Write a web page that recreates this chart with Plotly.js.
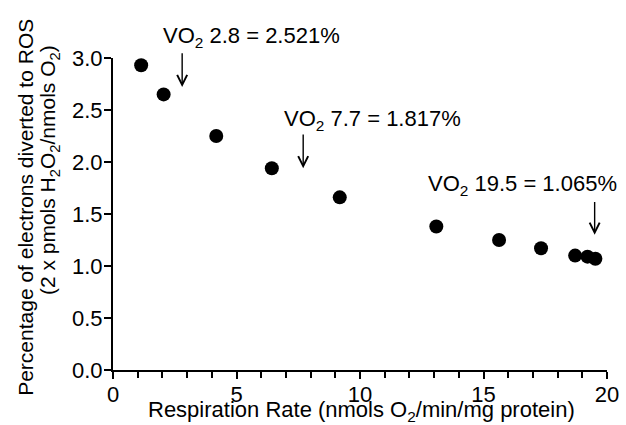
<!DOCTYPE html>
<html>
<head>
<meta charset="utf-8">
<script src="https://cdn.plot.ly/plotly-3.0.1.min.js"></script>
<style>html,body{margin:0;padding:0;background:#fff;}#chart{width:626px;height:425px;}</style>
</head>
<body>
<div id="chart"></div>
<script>
// Data
const respirationRate = [1.14, 2.05, 4.18, 6.43, 9.18, 13.09, 15.63, 17.33, 18.71, 19.21, 19.53];
const percentROS      = [2.93, 2.65, 2.25, 1.94, 1.66, 1.38, 1.25, 1.17, 1.10, 1.09, 1.07];

// Annotated points
const annotVO2   = [2.8, 7.7, 19.5];
const annotPct   = ["2.521", "1.817", "1.065"];
const annotLabel = annotVO2.map((v, i) => "VO<sub>2</sub> " + v + " = " + annotPct[i] + "%");

// Axis titles
const xTitle  = 'Respiration Rate (nmols O<sub>2</sub>/min/mg protein)';
const yTitle1 = 'Percentage of electrons diverted to ROS';
const yTitle2 = '(2 x pmols H<sub>2</sub>O<sub>2</sub>/nmols O<sub>2</sub>)';

const FONT = "Arial, 'Liberation Sans', Helvetica, sans-serif";

// layout positions (paper y) for annotation texts and arrows
const textPos   = [[5.61, 1.068], [10.52, 0.80], [16.56, 0.593]];
const arrowTail = [3.06, 2.28, 1.63];
const arrowTip  = [2.72, 1.94, 1.30];

const annotations = [];
annotLabel.forEach((t, i) => {
  annotations.push({
    x: textPos[i][0], y: textPos[i][1], xref: 'x', yref: 'paper',
    text: t, showarrow: false, font: {family: FONT, size: 22, color: '#000'},
    xanchor: 'center', yanchor: 'middle'
  });
  annotations.push({
    x: annotVO2[i], y: arrowTip[i], ax: annotVO2[i], ay: arrowTail[i],
    xref: 'x', yref: 'y', axref: 'x', ayref: 'y',
    text: '', showarrow: true, arrowhead: 5, arrowsize: 1.4, arrowwidth: 1.4, arrowcolor: '#000'
  });
});

// X axis title
annotations.push({
  xref: 'paper', yref: 'paper', x: 0.503, y: -0.13, xanchor: 'center', yanchor: 'middle',
  text: xTitle, showarrow: false, font: {family: FONT, size: 22, color: '#000'}
});
// Y axis title (two lines)
annotations.push({
  xref: 'paper', yref: 'paper', x: -0.176, y: 0.52, xanchor: 'center', yanchor: 'middle',
  text: yTitle1, textangle: -90, showarrow: false,
  font: {family: FONT, size: 21, color: '#000'}
});
annotations.push({
  xref: 'paper', yref: 'paper', x: -0.128, y: 0.64, xanchor: 'center', yanchor: 'middle',
  text: yTitle2, textangle: -90, showarrow: false,
  font: {family: FONT, size: 21, color: '#000'}
});

const trace = {
  x: respirationRate, y: percentROS, type: 'scatter', mode: 'markers',
  marker: {size: 14, color: '#000'}, cliponaxis: false, showlegend: false
};

const layout = {
  width: 626, height: 425,
  margin: {l: 113, r: 19, t: 58, b: 55, pad: 0},
  paper_bgcolor: '#fff', plot_bgcolor: '#fff',
  font: {family: FONT, color: '#000'},
  showlegend: false,
  xaxis: {
    range: [0, 20], dtick: 5, tick0: 0, showgrid: false, zeroline: false,
    showline: true, linecolor: '#000', linewidth: 2,
    ticks: 'outside', ticklen: 7, tickwidth: 2, tickcolor: '#000',
    ticklabelstandoff: -3,
    minor: {dtick: 1, ticks: 'outside', ticklen: 6, tickwidth: 2, tickcolor: '#000', showgrid: false},
    tickfont: {family: FONT, size: 22, color: '#000'}
  },
  yaxis: {
    range: [0, 3], dtick: 0.5, tick0: 0, tickformat: '.1f', showgrid: false, zeroline: false,
    showline: true, linecolor: '#000', linewidth: 2,
    ticks: 'outside', ticklen: 7, tickwidth: 2, tickcolor: '#000',
    ticklabelstandoff: -3,
    tickfont: {family: FONT, size: 22, color: '#000'}
  },
  annotations: annotations
};

Plotly.newPlot('chart', [trace], layout, {displayModeBar: false, staticPlot: true});
</script>
</body>
</html>
